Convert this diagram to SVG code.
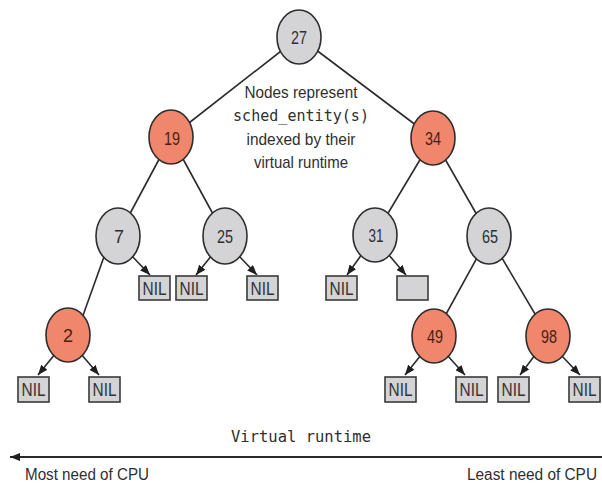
<svg xmlns="http://www.w3.org/2000/svg" width="602" height="486" viewBox="0 0 602 486">
  <style>
    .edge { stroke: #2b2b2b; stroke-width: 1.6; fill: none; }
    .ptr { stroke: #2b2b2b; stroke-width: 1.6; fill: none; marker-end: url(#head); }
    .black { fill: #d4d4d6; stroke: #2e2e2e; stroke-width: 1.6; }
    .red { fill: #f0866b; stroke: #2e2e2e; stroke-width: 1.6; }
    .key { font-family: "Liberation Sans", Arial, sans-serif; font-size: 18px; text-anchor: middle; fill: #2f2f2f; }
    .red + .key { fill: #4a1e14; }
    .leaf { fill: #d4d4d6; stroke: #3a3a3a; stroke-width: 1.6; }
    .nil { font-family: "Liberation Sans", Arial, sans-serif; font-size: 19px; text-anchor: middle; fill: #333; }
    .note { font-family: "Liberation Sans", Arial, sans-serif; font-size: 17px; text-anchor: middle; fill: #2f2f2f; }
    .mono { font-family: "DejaVu Sans Mono", "Liberation Mono", monospace; font-size: 15px; fill: #2f2f2f; }
    .label { font-family: "Liberation Sans", Arial, sans-serif; font-size: 16px; fill: #2f2f2f; }
  </style>
  <defs>
    <marker id="head" viewBox="0 0 10 8" refX="10" refY="4" markerWidth="10" markerHeight="8" markerUnits="userSpaceOnUse" orient="auto">
      <path d="M0,0 L10,4 L0,8 Z" fill="#1e1e1e"/>
    </marker>
  </defs>

  <!-- tree edges and NIL pointers -->
  <g id="connectors">
    <line class="edge" x1="299" y1="37" x2="171" y2="137"/>
    <line class="edge" x1="299" y1="37" x2="433" y2="138"/>
    <line class="edge" x1="171" y1="137" x2="118" y2="236"/>
    <line class="edge" x1="171" y1="137" x2="225" y2="236"/>
    <line class="edge" x1="433" y1="138" x2="375" y2="235"/>
    <line class="edge" x1="433" y1="138" x2="489" y2="236"/>
    <line class="edge" x1="110" y1="240" x2="76" y2="335"/>
    <line class="edge" x1="489" y1="236" x2="434" y2="336"/>
    <line class="edge" x1="489" y1="236" x2="548" y2="336"/>

    <line class="ptr" x1="131" y1="255" x2="150" y2="275"/>
    <line class="ptr" x1="212" y1="255" x2="196" y2="275"/>
    <line class="ptr" x1="238" y1="255" x2="257" y2="275"/>
    <line class="ptr" x1="362" y1="254" x2="347" y2="275"/>
    <line class="ptr" x1="388" y1="254" x2="406" y2="275"/>
    <line class="ptr" x1="55" y1="354" x2="38" y2="375"/>
    <line class="ptr" x1="81" y1="354" x2="99" y2="375"/>
    <line class="ptr" x1="421" y1="355" x2="405" y2="375"/>
    <line class="ptr" x1="447" y1="355" x2="465" y2="375"/>
    <line class="ptr" x1="535" y1="355" x2="520" y2="375"/>
    <line class="ptr" x1="561" y1="355" x2="580" y2="375"/>
  </g>

  <!-- internal nodes -->
  <g id="n27"><ellipse class="black" cx="299" cy="37" rx="22" ry="27"/><text class="key" x="299" y="44" textLength="16" lengthAdjust="spacingAndGlyphs">27</text></g>
  <g id="n19"><ellipse class="red" cx="171" cy="137" rx="22" ry="27"/><text class="key" x="172" y="145" textLength="16" lengthAdjust="spacingAndGlyphs">19</text></g>
  <g id="n34"><ellipse class="red" cx="433" cy="138" rx="22" ry="27"/><text class="key" x="433" y="145" textLength="16" lengthAdjust="spacingAndGlyphs">34</text></g>
  <g id="n7"><ellipse class="black" cx="118" cy="236" rx="22" ry="28"/><text class="key" x="119" y="243">7</text></g>
  <g id="n25"><ellipse class="black" cx="225" cy="236" rx="22" ry="28"/><text class="key" x="225" y="243" textLength="16" lengthAdjust="spacingAndGlyphs">25</text></g>
  <g id="n31"><ellipse class="black" cx="375" cy="235" rx="22" ry="27"/><text class="key" x="376" y="242" textLength="15" lengthAdjust="spacingAndGlyphs">31</text></g>
  <g id="n65"><ellipse class="black" cx="489" cy="236" rx="22" ry="28"/><text class="key" x="490" y="243" textLength="16" lengthAdjust="spacingAndGlyphs">65</text></g>
  <g id="n2"><ellipse class="red" cx="68" cy="335" rx="22" ry="27"/><text class="key" x="68" y="342">2</text></g>
  <g id="n49"><ellipse class="red" cx="434" cy="336" rx="22" ry="27"/><text class="key" x="435" y="343" textLength="16" lengthAdjust="spacingAndGlyphs">49</text></g>
  <g id="n98"><ellipse class="red" cx="548" cy="336" rx="22" ry="27"/><text class="key" x="549" y="343" textLength="16" lengthAdjust="spacingAndGlyphs">98</text></g>

  <!-- leaves -->
  <g id="nil-7r"><rect class="leaf" x="139" y="276" width="31" height="24"/><text class="nil" x="154.5" y="295" textLength="24" lengthAdjust="spacingAndGlyphs">NIL</text></g>
  <g id="nil-25l"><rect class="leaf" x="176" y="276" width="31" height="24"/><text class="nil" x="191.5" y="295" textLength="24" lengthAdjust="spacingAndGlyphs">NIL</text></g>
  <g id="nil-25r"><rect class="leaf" x="247" y="276" width="31" height="24"/><text class="nil" x="262.5" y="295" textLength="24" lengthAdjust="spacingAndGlyphs">NIL</text></g>
  <g id="nil-31l"><rect class="leaf" x="326" y="276" width="31" height="24"/><text class="nil" x="341.5" y="295" textLength="24" lengthAdjust="spacingAndGlyphs">NIL</text></g>
  <g id="leaf-31r"><rect class="leaf" x="397" y="276" width="31" height="24"/></g>
  <g id="nil-2l"><rect class="leaf" x="18" y="377" width="31" height="25"/><text class="nil" x="33.5" y="396" textLength="24" lengthAdjust="spacingAndGlyphs">NIL</text></g>
  <g id="nil-2r"><rect class="leaf" x="89" y="377" width="31" height="25"/><text class="nil" x="104.5" y="396" textLength="24" lengthAdjust="spacingAndGlyphs">NIL</text></g>
  <g id="nil-49l"><rect class="leaf" x="385" y="377" width="31" height="25"/><text class="nil" x="400.5" y="396" textLength="24" lengthAdjust="spacingAndGlyphs">NIL</text></g>
  <g id="nil-49r"><rect class="leaf" x="456" y="377" width="31" height="25"/><text class="nil" x="471.5" y="396" textLength="24" lengthAdjust="spacingAndGlyphs">NIL</text></g>
  <g id="nil-98l"><rect class="leaf" x="498" y="377" width="31" height="25"/><text class="nil" x="513.5" y="396" textLength="24" lengthAdjust="spacingAndGlyphs">NIL</text></g>
  <g id="nil-98r"><rect class="leaf" x="569" y="377" width="31" height="25"/><text class="nil" x="584.5" y="396" textLength="24" lengthAdjust="spacingAndGlyphs">NIL</text></g>

  <!-- annotation -->
  <g id="note">
    <text class="note" x="301" y="98" textLength="113" lengthAdjust="spacingAndGlyphs">Nodes represent</text>
    <text class="mono" x="301" y="121" text-anchor="middle" textLength="136" lengthAdjust="spacingAndGlyphs">sched_entity(s)</text>
    <text class="note" x="301" y="145" textLength="109" lengthAdjust="spacingAndGlyphs">indexed by their</text>
    <text class="note" x="301" y="168" textLength="94" lengthAdjust="spacingAndGlyphs">virtual runtime</text>
  </g>

  <!-- virtual runtime axis -->
  <g id="axis">
    <text class="mono" x="301" y="442" text-anchor="middle" textLength="140" lengthAdjust="spacingAndGlyphs">Virtual runtime</text>
    <line x1="602" y1="457" x2="10" y2="457" stroke="#2b2b2b" stroke-width="2" marker-end="url(#head)"/>
    <text class="label" x="25" y="480" textLength="124" lengthAdjust="spacingAndGlyphs">Most need of CPU</text>
    <text class="label" x="467" y="480" textLength="130" lengthAdjust="spacingAndGlyphs">Least need of CPU</text>
  </g>
</svg>
